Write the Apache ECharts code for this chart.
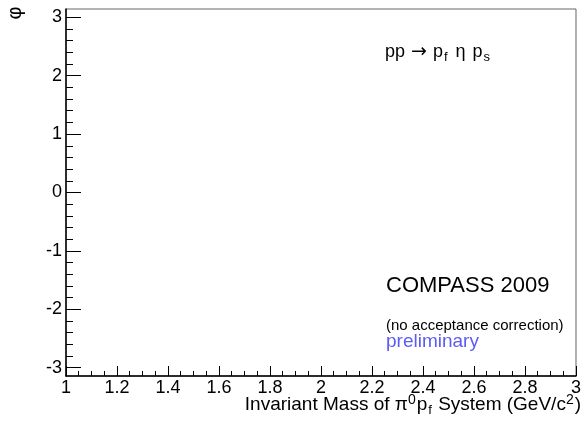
<!DOCTYPE html>
<html>
<head>
<meta charset="utf-8">
<script src="https://cdn.jsdelivr.net/npm/echarts@6/dist/echarts.min.js"></script>
<style>
  html, body { margin: 0; padding: 0; background: #fff; }
  #chart { width: 584px; height: 422px; }
</style>
</head>
<body>
<div id="chart"></div>
<script>
// empty phi vs mass plot, no entries
const points = [];
const xRange = [1, 3];
const phiRange = [-Math.PI, Math.PI];
const yMajorTicks = [-3, -2, -1, 0, 1, 2, 3];
const yMinorTicks = [
  -3, -2.8, -2.6, -2.4, -2.2, -2, -1.8, -1.6, -1.4, -1.2, -1, -0.8, -0.6, -0.4, -0.2,
  0, 0.2, 0.4, 0.6, 0.8, 1, 1.2, 1.4, 1.6, 1.8, 2, 2.2, 2.4, 2.6, 2.8, 3
];

const FONT = "'Liberation Sans', Arial, Helvetica, sans-serif";
const chart = echarts.init(document.getElementById("chart"), null, { renderer: "canvas" });

const subStyle = { fontSize: 13, fontFamily: FONT, lineHeight: 10, verticalAlign: "bottom", color: "#000", padding: [0, 1, 0, 1] };
const supStyle = { fontSize: 14, fontFamily: FONT, lineHeight: 10, verticalAlign: "top", color: "#000", padding: [0, 1, 0, 0] };

const option = {
  animation: false,
  backgroundColor: "#fff",
  grid: {
    left: 66, right: 7, top: 9, bottom: 46,
    show: true, borderColor: "#666", borderWidth: 1,
    backgroundColor: "transparent"
  },
  xAxis: {
    type: "value",
    min: xRange[0], max: xRange[1], interval: 0.2,
    axisLine: { show: true, onZero: false, lineStyle: { color: "#000", width: 1.5 } },
    axisTick: { show: true, inside: true, length: 10, lineStyle: { color: "#000" } },
    minorTick: { show: true, splitNumber: 4, length: 5, lineStyle: { color: "#000" } },
    axisLabel: { color: "#000", fontSize: 18, fontFamily: FONT, margin: 3, showMinLabel: true, showMaxLabel: true },
    splitLine: { show: false }
  },
  yAxis: [
    {
      type: "value",
      min: phiRange[0], max: phiRange[1],
      position: "left",
      axisLine: { show: true, onZero: false, lineStyle: { color: "#000", width: 1.5 } },
      axisTick: { show: true, inside: true, length: 15, customValues: yMajorTicks, lineStyle: { color: "#000" } },
      axisLabel: { color: "#000", fontSize: 18, fontFamily: FONT, margin: 4, customValues: yMajorTicks },
      splitLine: { show: false }
    },
    {
      type: "value",
      min: phiRange[0], max: phiRange[1],
      position: "left", offset: 0,
      axisLine: { show: false },
      axisTick: { show: true, inside: true, length: 7, customValues: yMinorTicks, lineStyle: { color: "#000" } },
      axisLabel: { show: false },
      splitLine: { show: false }
    }
  ],
  series: [
    { type: "scatter", data: points, xAxisIndex: 0, yAxisIndex: 0, symbolSize: 2 }
  ],
  graphic: [
    {
      type: "text", x: 15, y: 13, rotation: Math.PI / 2,
      style: { text: "φ", font: "20px " + FONT, fill: "#000", align: "center", verticalAlign: "middle" }
    },
    {
      type: "text", x: 385, y: 52,
      style: {
        text: "pp{arr|→}p{sub|f}{gap|η}p{sub|s}",
        font: "18px " + FONT, fill: "#000", align: "left", verticalAlign: "middle", lineHeight: 24,
        rich: {
          sub: subStyle,
          arr: { fontSize: 19, fontFamily: "'DejaVu Sans', " + FONT, color: "#000", padding: [0, 6, 0, 6] },
          gap: { fontSize: 18, fontFamily: FONT, color: "#000", padding: [0, 7, 0, 7] }
        }
      }
    },
    {
      type: "text", x: 386, y: 286,
      style: { text: "COMPASS 2009", font: "22px " + FONT, fill: "#000", align: "left", verticalAlign: "middle" }
    },
    {
      type: "text", x: 386, y: 326,
      style: { text: "(no acceptance correction)", font: "15px " + FONT, fill: "#000", align: "left", verticalAlign: "middle" }
    },
    {
      type: "text", x: 386, y: 342,
      style: { text: "preliminary", font: "19px " + FONT, fill: "#5c5cf2", align: "left", verticalAlign: "middle" }
    },
    {
      type: "text", x: 581, y: 405,
      style: {
        text: "Invariant Mass of π{sup|0}p{sub|f} System (GeV/c{sup|2})",
        font: "19px " + FONT, fill: "#000", align: "right", verticalAlign: "middle", lineHeight: 24,
        rich: { sub: subStyle, sup: supStyle }
      }
    }
  ]
};

chart.setOption(option);
</script>
</body>
</html>
